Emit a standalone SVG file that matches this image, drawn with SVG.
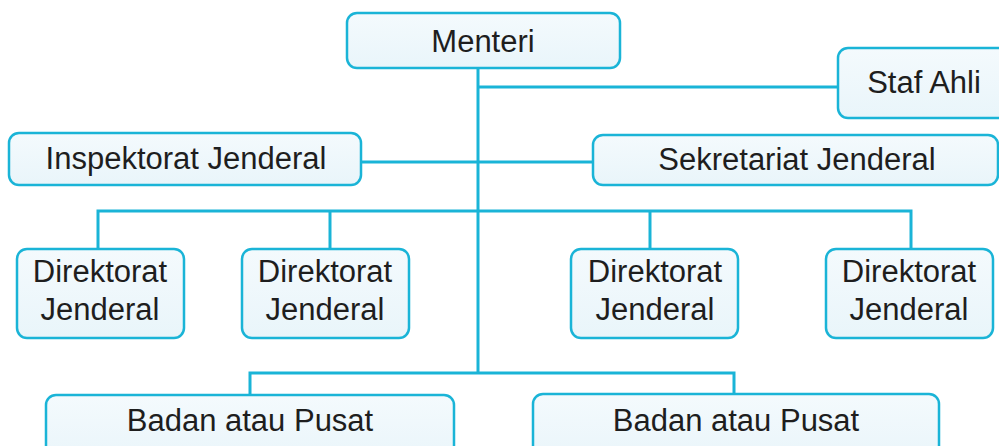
<svg xmlns="http://www.w3.org/2000/svg" width="999" height="446" viewBox="0 0 999 446">
<defs>
<linearGradient id="bg" x1="0" y1="0" x2="0" y2="1">
<stop offset="0" stop-color="#f4fafd"/>
<stop offset="1" stop-color="#e9f5fa"/>
</linearGradient>
<style>
.box{fill:url(#bg);stroke:#1ab4d7;stroke-width:2.5}
.t{font-family:"Liberation Sans",Arial,sans-serif;font-size:31px;fill:#1e1e1e;text-anchor:middle}
.c{stroke:#1ab4d7;stroke-width:3;fill:none}
</style>
</defs>
<rect width="999" height="446" fill="#ffffff"/>
<g id="connectors">
<line class="c" x1="478" y1="68" x2="478" y2="374"/>
<line class="c" x1="478" y1="87" x2="838" y2="87"/>
<line class="c" x1="361" y1="162" x2="593" y2="162"/>
<polyline class="c" points="98,249 98,211 911,211 911,249"/>
<line class="c" x1="330" y1="211" x2="330" y2="249"/>
<line class="c" x1="650" y1="211" x2="650" y2="249"/>
<polyline class="c" points="250,395 250,373 734,373 734,395"/>
</g>
<g id="menteri"><rect class="box" x="347" y="13" width="273" height="55" rx="10"/><text class="t" x="483" y="52">Menteri</text></g>
<g id="staf-ahli"><rect class="box" x="838" y="48" width="175" height="70" rx="10"/><text class="t" x="924" y="93">Staf Ahli</text></g>
<g id="inspektorat"><rect class="box" x="9" y="133" width="352" height="52" rx="10"/><text class="t" x="186" y="169">Inspektorat Jenderal</text></g>
<g id="sekretariat"><rect class="box" x="593" y="135" width="405" height="50" rx="10"/><text class="t" x="797" y="170">Sekretariat Jenderal</text></g>
<g id="dirjen1"><rect class="box" x="17" y="249" width="167" height="89" rx="10"/><text class="t" x="100" y="282">Direktorat</text><text class="t" x="100" y="320">Jenderal</text></g>
<g id="dirjen2"><rect class="box" x="242" y="249" width="167" height="89" rx="10"/><text class="t" x="325" y="282">Direktorat</text><text class="t" x="325" y="320">Jenderal</text></g>
<g id="dirjen3"><rect class="box" x="571" y="249" width="167" height="89" rx="10"/><text class="t" x="655" y="282">Direktorat</text><text class="t" x="655" y="320">Jenderal</text></g>
<g id="dirjen4"><rect class="box" x="826" y="249" width="167" height="89" rx="10"/><text class="t" x="909" y="282">Direktorat</text><text class="t" x="909" y="320">Jenderal</text></g>
<g id="badan1"><rect class="box" x="46" y="395" width="408" height="70" rx="10"/><text class="t" x="250" y="431">Badan atau Pusat</text></g>
<g id="badan2"><rect class="box" x="533" y="394" width="406" height="70" rx="10"/><text class="t" x="736" y="431">Badan atau Pusat</text></g>
</svg>
